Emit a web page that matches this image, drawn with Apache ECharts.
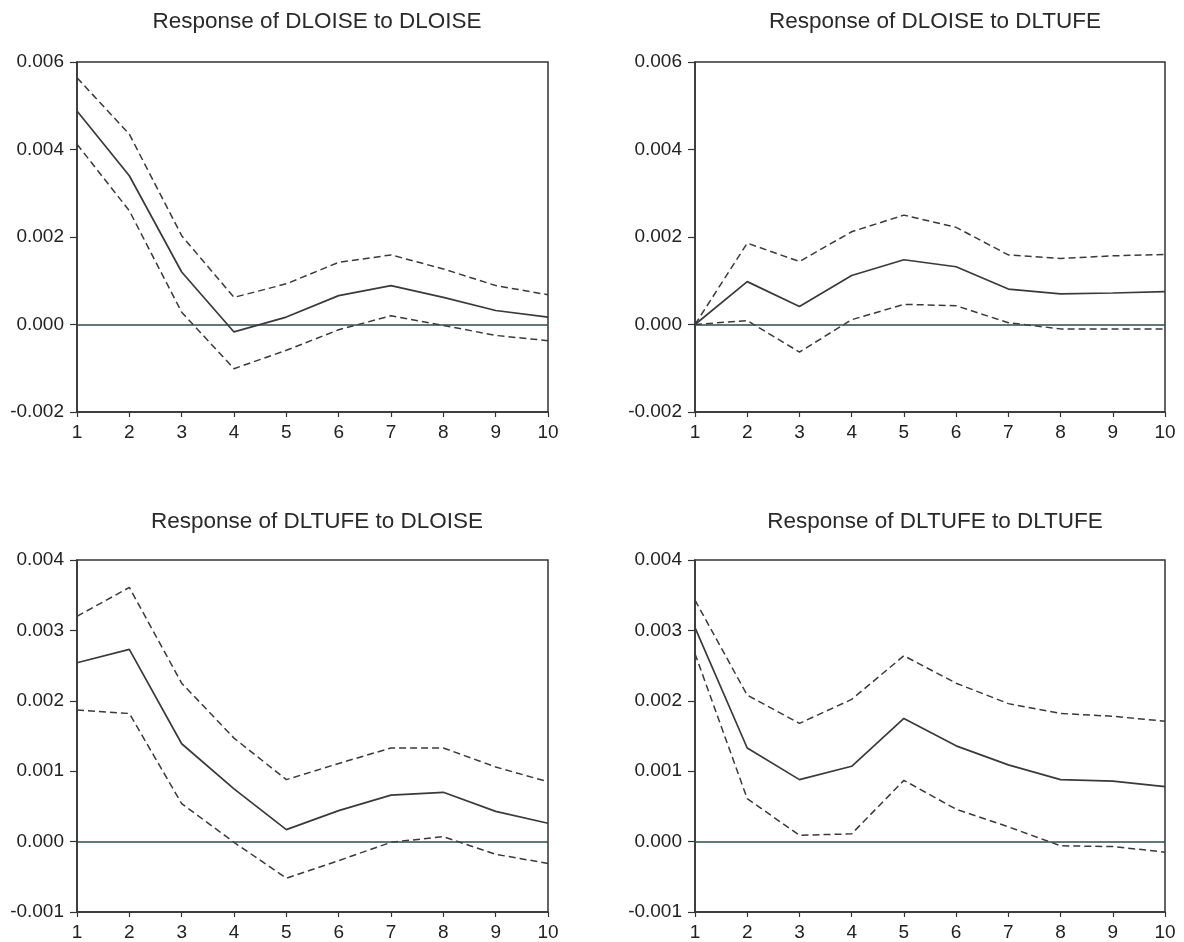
<!DOCTYPE html>
<html>
<head>
<meta charset="utf-8">
<script src="https://cdn.jsdelivr.net/npm/echarts@6/dist/echarts.min.js"></script>
<style>
html,body{margin:0;padding:0;background:#fff;}
#chart{width:1184px;height:942px;}
</style>
</head>
<body>
<div id="chart"></div>
<script>
// Horizon (periods)
const periods = [1,2,3,4,5,6,7,8,9,10];

// Panel titles
const titles = [
  'Response of DLOISE to DLOISE',
  'Response of DLOISE to DLTUFE',
  'Response of DLTUFE to DLOISE',
  'Response of DLTUFE to DLTUFE'
];

// Panel 1: DLOISE -> DLOISE
const p1Resp  = [0.00488, 0.00340, 0.00120, -0.00017, 0.00017, 0.00066, 0.00089, 0.00062, 0.00032, 0.00017];
const p1Upper = [0.00564, 0.00435, 0.00203, 0.00062, 0.00093, 0.00142, 0.00159, 0.00127, 0.00089, 0.00068];
const p1Lower = [0.00412, 0.00260, 0.00028, -0.00101, -0.00059, -0.00012, 0.00020, -0.00002, -0.00025, -0.00037];

// Panel 2: DLOISE -> DLTUFE
const p2Resp  = [0.00000, 0.00098, 0.00041, 0.00112, 0.00148, 0.00132, 0.00081, 0.00070, 0.00072, 0.00075];
const p2Upper = [0.00000, 0.00186, 0.00144, 0.00212, 0.00250, 0.00222, 0.00159, 0.00151, 0.00157, 0.00160];
const p2Lower = [0.00000, 0.00009, -0.00063, 0.00011, 0.00046, 0.00043, 0.00004, -0.00010, -0.00010, -0.00010];

// Panel 3: DLTUFE -> DLOISE
const p3Resp  = [0.00254, 0.00273, 0.00139, 0.00075, 0.00017, 0.00044, 0.00066, 0.00070, 0.00043, 0.00026];
const p3Upper = [0.00320, 0.00361, 0.00225, 0.00147, 0.00088, 0.00111, 0.00133, 0.00133, 0.00106, 0.00085];
const p3Lower = [0.00187, 0.00182, 0.00054, -0.00001, -0.00052, -0.00027, -0.00001, 0.00007, -0.00018, -0.00031];

// Panel 4: DLTUFE -> DLTUFE
const p4Resp  = [0.00304, 0.00133, 0.00088, 0.00107, 0.00175, 0.00136, 0.00109, 0.00088, 0.00086, 0.00078];
const p4Upper = [0.00343, 0.00208, 0.00168, 0.00202, 0.00264, 0.00225, 0.00196, 0.00182, 0.00178, 0.00171];
const p4Lower = [0.00267, 0.00061, 0.00009, 0.00011, 0.00087, 0.00046, 0.00021, -0.00006, -0.00007, -0.00015];

// Y-axis ranges per panel
const yMin = [-0.002, -0.002, -0.001, -0.001];
const yMax = [0.006, 0.006, 0.004, 0.004];
const yStep = [0.002, 0.002, 0.001, 0.001];

const panels = [
  [p1Resp, p1Upper, p1Lower],
  [p2Resp, p2Upper, p2Lower],
  [p3Resp, p3Upper, p3Lower],
  [p4Resp, p4Upper, p4Lower]
];

const gridPos = [
  {left: 77, top: 62, width: 471, height: 350},
  {left: 695, top: 62, width: 470, height: 350},
  {left: 77, top: 560, width: 471, height: 352},
  {left: 695, top: 560, width: 470, height: 352}
];
const titlePos = [
  {x: 312, y: 5}, {x: 930, y: 5}, {x: 312, y: 505}, {x: 930, y: 505}
];

const lineColor = '#3a3a3a';
const axisColor = '#333';
const fontFamily = '"Liberation Sans", Arial, Helvetica, sans-serif';

const option = {
  backgroundColor: '#fff',
  animation: false,
  title: titles.map((t, i) => ({
    text: t,
    left: titlePos[i].x,
    top: titlePos[i].y,
    textAlign: 'center',
    textStyle: {fontFamily, fontSize: 22.5, fontWeight: 'normal', color: '#2a2a2a'}
  })),
  grid: gridPos.map(g => Object.assign({
    show: true, borderColor: axisColor, borderWidth: 1.5, backgroundColor: 'transparent'
  }, g)),
  xAxis: gridPos.map((g, i) => ({
    gridIndex: i, type: 'value', min: 1, max: 10, interval: 1,
    axisLine: {show: true, onZero: false, lineStyle: {color: axisColor, width: 1.5}},
    axisTick: {show: true, length: 5, inside: false, lineStyle: {color: axisColor, width: 1.2}},
    axisLabel: {color: '#222', fontFamily, fontSize: 19, margin: 11},
    splitLine: {show: false}
  })),
  yAxis: gridPos.map((g, i) => ({
    gridIndex: i, type: 'value', min: yMin[i], max: yMax[i], interval: yStep[i],
    axisLine: {show: true, onZero: false, lineStyle: {color: axisColor, width: 1.5}},
    axisTick: {show: true, length: 7, inside: false, lineStyle: {color: axisColor, width: 1.2}},
    axisLabel: {color: '#222', fontFamily, fontSize: 19, margin: 13,
      formatter: v => v.toFixed(3)},
    splitLine: {show: false}
  })),
  series: []
};

panels.forEach((p, i) => {
  const [resp, upper, lower] = p;
  option.series.push({
    type: 'line', xAxisIndex: i, yAxisIndex: i,
    data: periods.map((x, k) => [x, resp[k]]),
    symbol: 'none', lineStyle: {color: lineColor, width: 1.7, type: 'solid'},
    z: 5,
    markLine: {
      silent: true, symbol: 'none', label: {show: false},
      lineStyle: {color: '#2e4c4c', width: 1.6, type: 'solid'},
      data: [{yAxis: 0}]
    }
  });
  [upper, lower].forEach(band => {
    option.series.push({
      type: 'line', xAxisIndex: i, yAxisIndex: i,
      data: periods.map((x, k) => [x, band[k]]),
      symbol: 'none', lineStyle: {color: lineColor, width: 1.5, type: [7, 4]},
      z: 4
    });
  });
});

const chart = echarts.init(document.getElementById('chart'), null, {renderer: 'canvas'});
chart.setOption(option);
</script>
</body>
</html>
